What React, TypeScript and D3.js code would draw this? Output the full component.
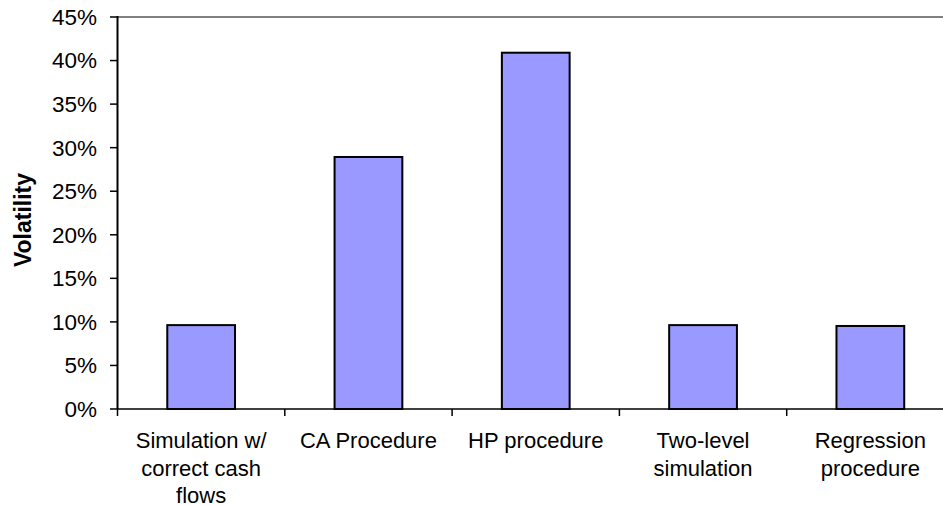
import React from "react";
import * as d3 from "d3";

const categories: string[][] = [
  ["Simulation w/", "correct cash", "flows"],
  ["CA Procedure"],
  ["HP procedure"],
  ["Two-level", "simulation"],
  ["Regression", "procedure"],
];
const values: number[] = [0.0963, 0.2893, 0.409, 0.0963, 0.0953];
const yTicks: number[] = [0, 0.05, 0.1, 0.15, 0.2, 0.25, 0.3, 0.35, 0.4, 0.45];
const yLabel = "Volatility";

const W = 943;
const H = 505;
const left = 117.5;
const right = 954;
const top = 17;
const bottom = 409;
const font = "Arial, 'Liberation Sans', Helvetica, sans-serif";

export default function App() {
  const idx = categories.map((_, i) => String(i));
  const x = d3.scaleBand<string>().domain(idx).range([left, right]).paddingInner(0.595).paddingOuter(0.2975);
  const xb = d3.scaleBand<string>().domain(idx).range([left, right]);
  const y = d3.scaleLinear().domain([0, 0.45]).range([bottom, top]);
  const fmt = d3.format(".0%");

  return (
    <svg width={W} height={H} style={{ position: "absolute", left: 0, top: 0, background: "#fff" }} fontFamily={font}>
      {/* top border */}
      <line x1={left} x2={right} y1={top} y2={top} stroke="#808080" strokeWidth={2} />
      <line x1={right} x2={right} y1={top} y2={bottom} stroke="#808080" strokeWidth={2} />
      {/* bars */}
      {values.map((v, i) => (
        <rect
          key={i}
          x={x(String(i))}
          y={y(v)}
          width={x.bandwidth()}
          height={bottom - y(v)}
          fill="#9999FF"
          stroke="#000"
          strokeWidth={2}
        />
      ))}
      {/* y axis */}
      <line x1={left} x2={left} y1={top - 1} y2={bottom} stroke="#000" strokeWidth={2} />
      {yTicks.map((t) => (
        <g key={t}>
          <line x1={left - 7.5} x2={left} y1={y(t)} y2={y(t)} stroke="#000" strokeWidth={1.5} />
          <text x={97} y={y(t)} dy="0.35em" textAnchor="end" fontSize={22.5} fill="#000">
            {fmt(t)}
          </text>
        </g>
      ))}
      {/* x axis */}
      <line x1={left} x2={right} y1={bottom} y2={bottom} stroke="#000" strokeWidth={1.5} />
      {idx.concat(["5"]).map((k, i) => {
        const px = i < idx.length ? (xb(k) as number) : right;
        return <line key={k} x1={px} x2={px} y1={bottom} y2={bottom + 7} stroke="#000" strokeWidth={1.5} />;
      })}
      {categories.map((lines, i) => {
        const cx = (xb(String(i)) as number) + xb.bandwidth() / 2;
        return (
          <text key={i} x={cx} y={448} textAnchor="middle" fontSize={22} fill="#000">
            {lines.map((l, j) => (
              <tspan key={j} x={cx} y={448 + j * 27.5}>
                {l}
              </tspan>
            ))}
          </text>
        );
      })}
      <text
        transform={`translate(31, 220) rotate(-90)`}
        textAnchor="middle"
        fontSize={23}
        fontWeight="bold"
        fill="#000"
      >
        {yLabel}
      </text>
    </svg>
  );
}
